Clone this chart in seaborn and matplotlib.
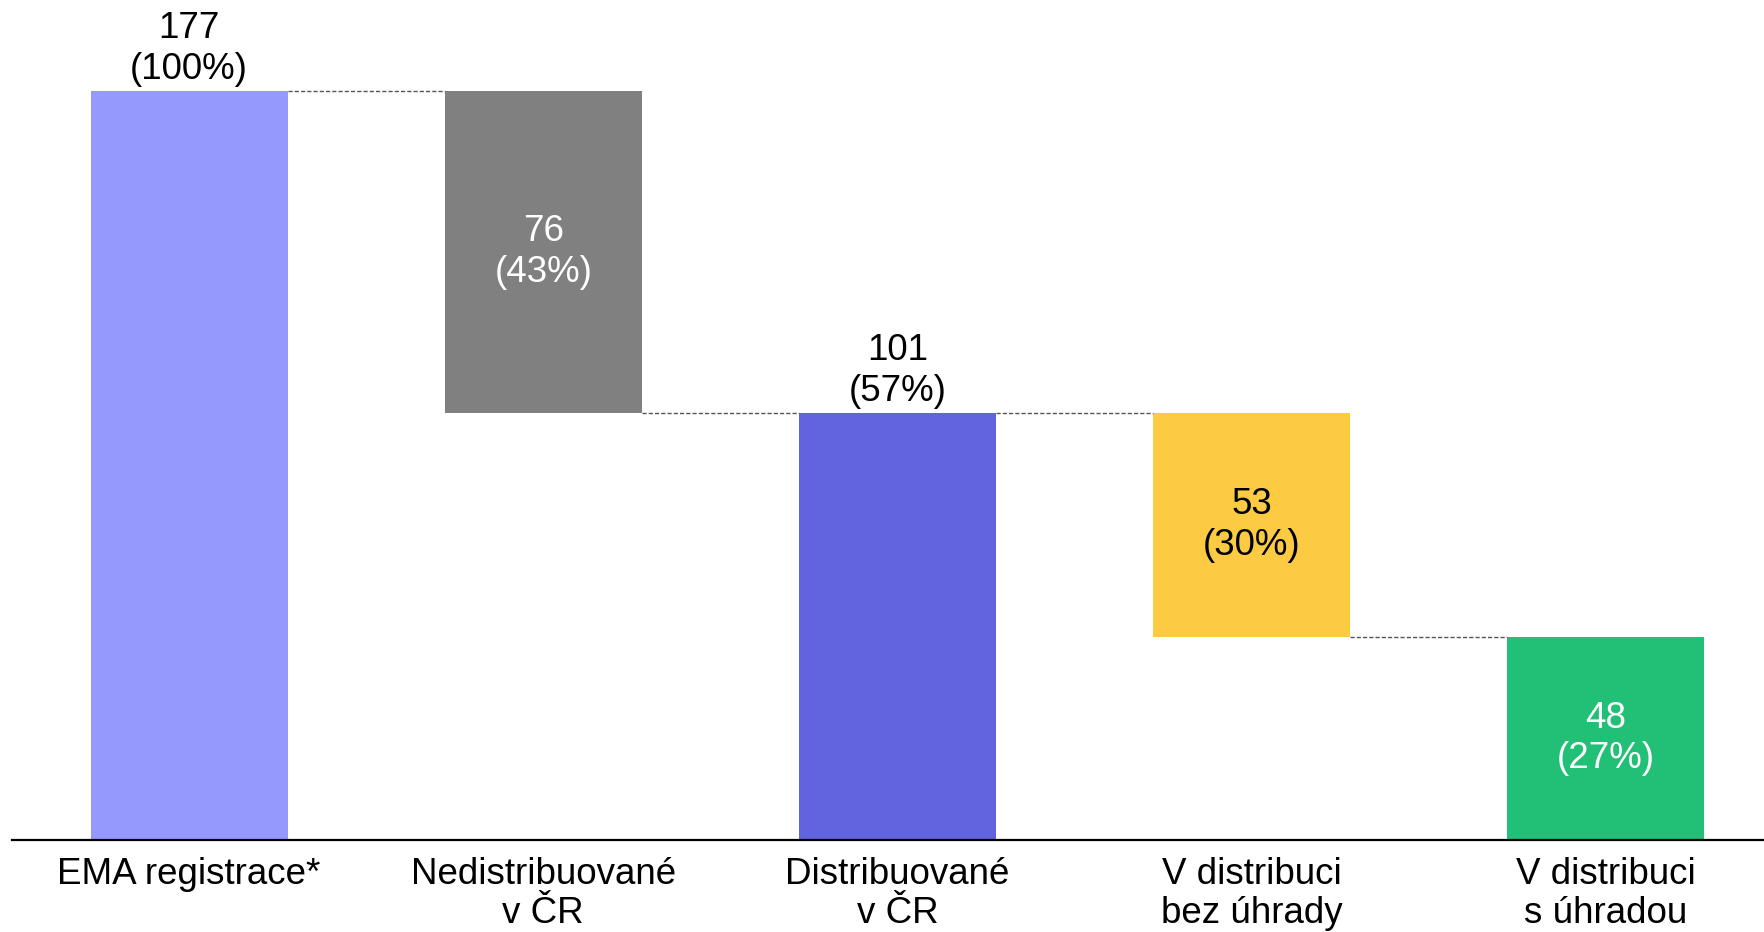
import matplotlib
matplotlib.use("Agg")
import matplotlib.pyplot as plt
import seaborn as sns
import pandas as pd

# ── data ──────────────────────────────────────────────────────────────────────
categories = ["EMA registrace*", "Nedistribuované\nv ČR", "Distribuované\nv ČR",
              "V distribuci\nbez úhrady", "V distribuci\ns úhradou"]
values = [177, 76, 101, 53, 48]
percents = [100, 43, 57, 30, 27]
is_total = [True, False, True, False, True]       # totals stand on the axis, others float
label_inside = [False, True, False, True, True]

colors = ["#9599FE", "#808080", "#6163DF", "#FCCB41", "#22BF76"]
text_colors = ["black", "white", "black", "black", "white"]

# floating bars hang from the previous total
bottoms = []
level = 0
for v, tot in zip(values, is_total):
    if tot:
        bottoms.append(0)
        level = v
    else:
        level = level - v
        bottoms.append(level)

df = pd.DataFrame({"stage": categories, "count": values})

# ── plot ──────────────────────────────────────────────────────────────────────
sns.set_theme(style="white")
plt.rcParams["font.family"] = ["Liberation Sans", "DejaVu Sans"]
FS = 26.5

fig = plt.figure(figsize=(17.65, 9.32), dpi=100)
ax = fig.add_axes([12 / 1765, 92 / 932, 1753 / 1765, 840 / 932])

sns.barplot(data=df, x="stage", y="count", hue="stage", palette=colors,
            order=categories, width=0.556, saturation=1, legend=False, ax=ax)

bars = ax.patches
for bar, b in zip(bars, bottoms):
    bar.set_y(b)
    bar.set_linewidth(0)

# dashed connectors between bars
for i in range(len(bars) - 1):
    left, right = bars[i], bars[i + 1]
    y = left.get_y() + left.get_height() if is_total[i] else left.get_y()
    ax.plot([left.get_x() + left.get_width(), right.get_x()], [y, y],
            ls=(0, (3, 1.5)), lw=1, color="#555555", zorder=1)

# value labels
for i, bar in enumerate(bars):
    cx = bar.get_x() + bar.get_width() / 2
    txt = f"{values[i]}\n({percents[i]}%)"
    if label_inside[i]:
        ax.text(cx, bar.get_y() + bar.get_height() / 2, txt, ha="center",
                va="center", fontsize=FS, color=text_colors[i], linespacing=1.22)
    else:
        ax.annotate(txt, (cx, bar.get_y() + bar.get_height()), xytext=(0, 3),
                    textcoords="offset points", ha="center", va="bottom",
                    fontsize=FS, color=text_colors[i], linespacing=1.22)

ax.set_xlim(-0.5, 4.45)
ax.set_ylim(0, 198.6)
ax.set_xlabel("")
ax.set_ylabel("")
ax.set_yticks([])
ax.tick_params(axis="x", length=0, pad=12, labelsize=FS, labelcolor="black")
for lbl in ax.get_xticklabels():
    lbl.set_linespacing(1.17)
for side in ["top", "right", "left"]:
    ax.spines[side].set_visible(False)
ax.spines["bottom"].set_color("black")
ax.spines["bottom"].set_linewidth(1.6)

fig.savefig("out.png", dpi=100)
plt.close(fig)
